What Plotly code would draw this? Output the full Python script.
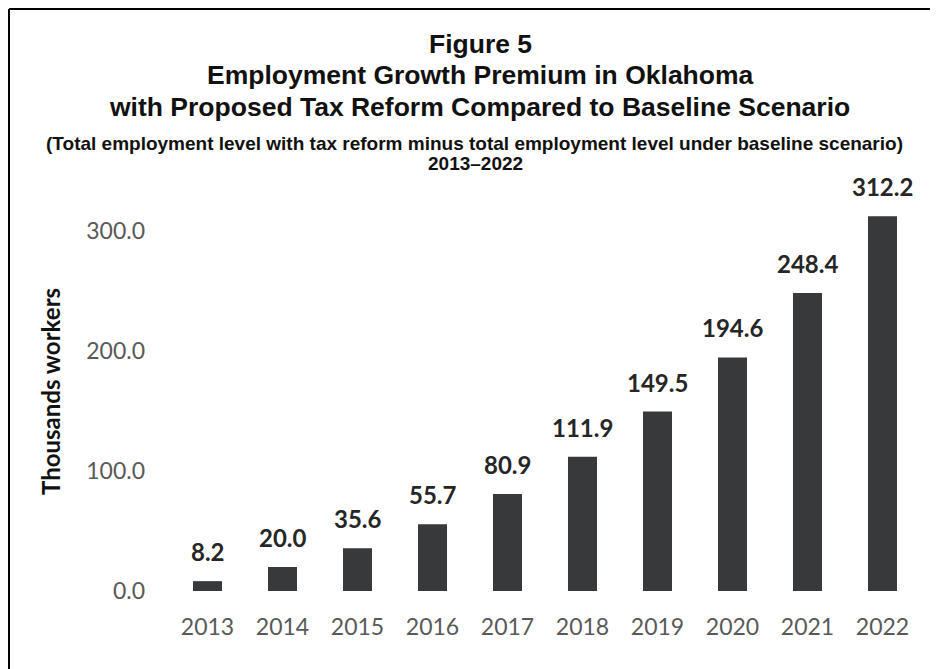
import plotly.graph_objects as go

years = ["2013", "2014", "2015", "2016", "2017", "2018", "2019", "2020", "2021", "2022"]
premium = [8.2, 20.0, 35.6, 55.7, 80.9, 111.9, 149.5, 194.6, 248.4, 312.2]
y_ticks = [0, 100, 200, 300]
y_tick_text = ["0.0", "100.0", "200.0", "300.0"]

# the page body adds an 8px margin, so the figure is shifted and sized to fit the window
OFF = 8
W, H = 938 - OFF, 669 - OFF
ML, MT = 170 - OFF, 183 - OFF
PW, PH = 750, 408
MR, MB = W - ML - PW, H - MT - PH

BAR = "#37393a"
TICK_GREY = "#595959"


def px_x(x):
    # page pixel -> paper coordinate
    return (x - OFF - ML) / PW


def px_y(y):
    return (MT + PH - (y - OFF)) / PH


fig = go.Figure()
fig.add_trace(go.Bar(
    x=years, y=premium,
    marker={"color": BAR, "line": {"width": 0}},
    hoverinfo="x+y",
    showlegend=False,
))

# value labels above each bar (category index, since "2013" would be read as a number)
for i, v in enumerate(premium):
    fig.add_annotation(
        x=i, y=v, text=f"{v:.1f}", showarrow=False,
        yanchor="bottom", yshift=13,
        font={"family": "Lato", "size": 24, "color": "#262626", "weight": "bold"},
    )

# title block
title_font = {"family": "Liberation Sans", "color": "#111111", "weight": "bold"}
for text, xpix, ypix, size in [
    ("Figure 5", 480, 44, 26.5),
    ("Employment Growth Premium in Oklahoma", 480, 75, 26.5),
    ("with Proposed Tax Reform Compared to Baseline Scenario", 479, 107, 26.5),
    ("(Total employment level with tax reform minus total employment level under baseline scenario)", 474, 144, 19),
    ("2013–2022", 475, 164, 19),
]:
    fig.add_annotation(
        xref="paper", yref="paper", x=px_x(xpix), y=px_y(ypix),
        text=text, showarrow=False, xanchor="center", yanchor="middle",
        font={**title_font, "size": size},
    )

fig.add_annotation(
    xref="paper", yref="paper", x=px_x(50), y=px_y(392),
    text="Thousands workers", textangle=-90, showarrow=False,
    xanchor="center", yanchor="middle",
    font={"family": "Lato", "size": 24, "color": "#111111", "weight": "bold"},
)

# frame: only the left and top edges show in the crop
fig.add_shape(type="line", xref="paper", yref="paper",
              x0=px_x(OFF + 1), x1=px_x(OFF + W), y0=px_y(OFF + 1), y1=px_y(OFF + 1),
              line={"color": "#000000", "width": 2})
fig.add_shape(type="line", xref="paper", yref="paper",
              x0=px_x(OFF + 1), x1=px_x(OFF + 1), y0=px_y(OFF + 1), y1=px_y(OFF + H),
              line={"color": "#000000", "width": 2})

fig.update_layout(
    width=W, height=H,
    margin={"l": ML, "r": MR, "t": MT, "b": MB, "autoexpand": False},
    paper_bgcolor="white", plot_bgcolor="white",
    bargap=0.613,
    font={"family": "Lato"},
)
fig.update_xaxes(
    type="category", range=[-0.5, len(years) - 0.5],
    showline=False, showgrid=False, ticks="",
    tickfont={"family": "Lato", "size": 23, "color": TICK_GREY},
    ticklabelstandoff=20,
)
fig.update_yaxes(
    range=[0, 340], showline=False, showgrid=False, zeroline=False, ticks="",
    tickvals=y_ticks, ticktext=y_tick_text,
    tickfont={"family": "Lato", "size": 23, "color": TICK_GREY},
    ticklabelstandoff=24,
)

fig.write_html("out.html")
